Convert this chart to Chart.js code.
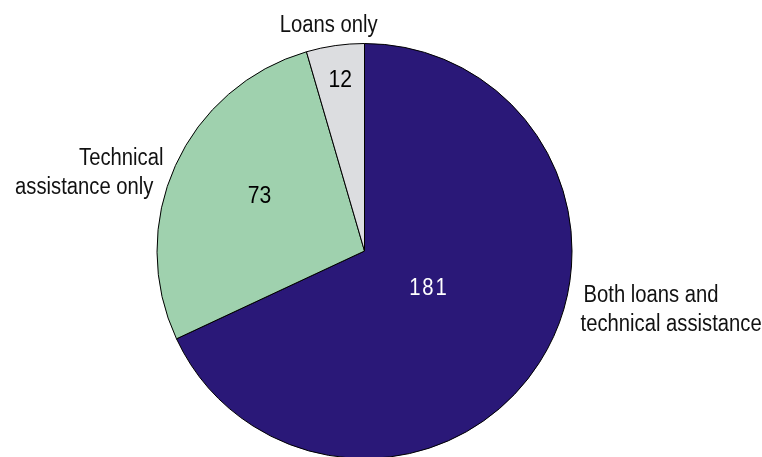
<!DOCTYPE html>
<html>
<head>
<meta charset="utf-8">
<script src="https://cdn.jsdelivr.net/npm/chart.js@4"></script>
<style>
  html, body { margin: 0; padding: 0; background: #fff; overflow: hidden; }
  #wrap { width: 762px; height: 470px; }
</style>
</head>
<body>
<div id="wrap"><canvas id="c" width="762" height="470"></canvas></div>
<script>
const categories = ["Both loans and\ntechnical assistance", "Technical\nassistance only", "Loans only"];
const values = [181, 73, 12];
const valueLabels = ["181", "73", "12"];
const colors = ["#2a1878", "#9fd1ae", "#dcdde0"];

const FONT = '"Liberation Sans", Arial, sans-serif';
const TEXT_SCALE_X = 0.88;

// label placement style (relative to arc geometry)
const valueStyle = [
  { frac: 0.36, angOff: -2, color: "#ffffff", size: 23, spacing: 2 },
  { frac: 0.57, angOff: 3, color: "#000000", size: 24, spacing: 0 },
  { frac: 0.83, angOff: 0, color: "#000000", size: 24, spacing: 0 }
];
const outerStyle = [
  { fx: 1.041, fy: 0.245, align: "left", lineDx: [3, 0] },
  { fx: -0.969, fy: -0.413, align: "right", lineDx: [0, -10] },
  { fx: -0.173, fy: -1.054, align: "center", lineDx: [0] }
];

function drawText(ctx, txt, x, y, sx) {
  ctx.save();
  ctx.translate(x, y);
  ctx.scale(sx, 1);
  ctx.fillText(txt, 0, 0);
  ctx.restore();
}

const labelPlugin = {
  id: "pieLabels",
  afterDraw(chart) {
    const ctx = chart.ctx;
    const meta = chart.getDatasetMeta(0);
    ctx.save();
    meta.data.forEach((arc, i) => {
      const p = arc.getProps(["x", "y", "startAngle", "endAngle", "outerRadius"], true);
      const vs = valueStyle[i];
      const mid = (p.startAngle + p.endAngle) / 2 + vs.angOff * Math.PI / 180;
      const r = p.outerRadius * vs.frac;
      ctx.font = vs.size + "px " + FONT;
      ctx.letterSpacing = vs.spacing + "px";
      ctx.textBaseline = "middle";
      ctx.fillStyle = vs.color;
      ctx.textAlign = "center";
      drawText(ctx, valueLabels[i], p.x + Math.cos(mid) * r, p.y + Math.sin(mid) * r, TEXT_SCALE_X);
      ctx.letterSpacing = "0px";

      const os = outerStyle[i];
      const lines = categories[i].split("\n");
      const lh = 29;
      const ax = p.x + os.fx * p.outerRadius;
      const ay = p.y + os.fy * p.outerRadius;
      ctx.font = "23px " + FONT;
      ctx.textBaseline = "alphabetic";
      ctx.fillStyle = "#111111";
      ctx.textAlign = os.align;
      lines.forEach((ln, k) => {
        drawText(ctx, ln, ax + (os.lineDx[k] || 0), ay + k * lh, TEXT_SCALE_X);
      });
    });
    ctx.restore();
  }
};

new Chart(document.getElementById("c"), {
  type: "pie",
  data: {
    labels: categories,
    datasets: [{
      data: values,
      backgroundColor: colors,
      borderColor: "#000000",
      borderWidth: 1
    }]
  },
  options: {
    responsive: false,
    animation: false,
    devicePixelRatio: 1,
    layout: { padding: { left: 156.5, right: 189.5, top: 43, bottom: 11 } },
    plugins: {
      legend: { display: false },
      tooltip: { enabled: false }
    }
  },
  plugins: [labelPlugin]
});
</script>
</body>
</html>
